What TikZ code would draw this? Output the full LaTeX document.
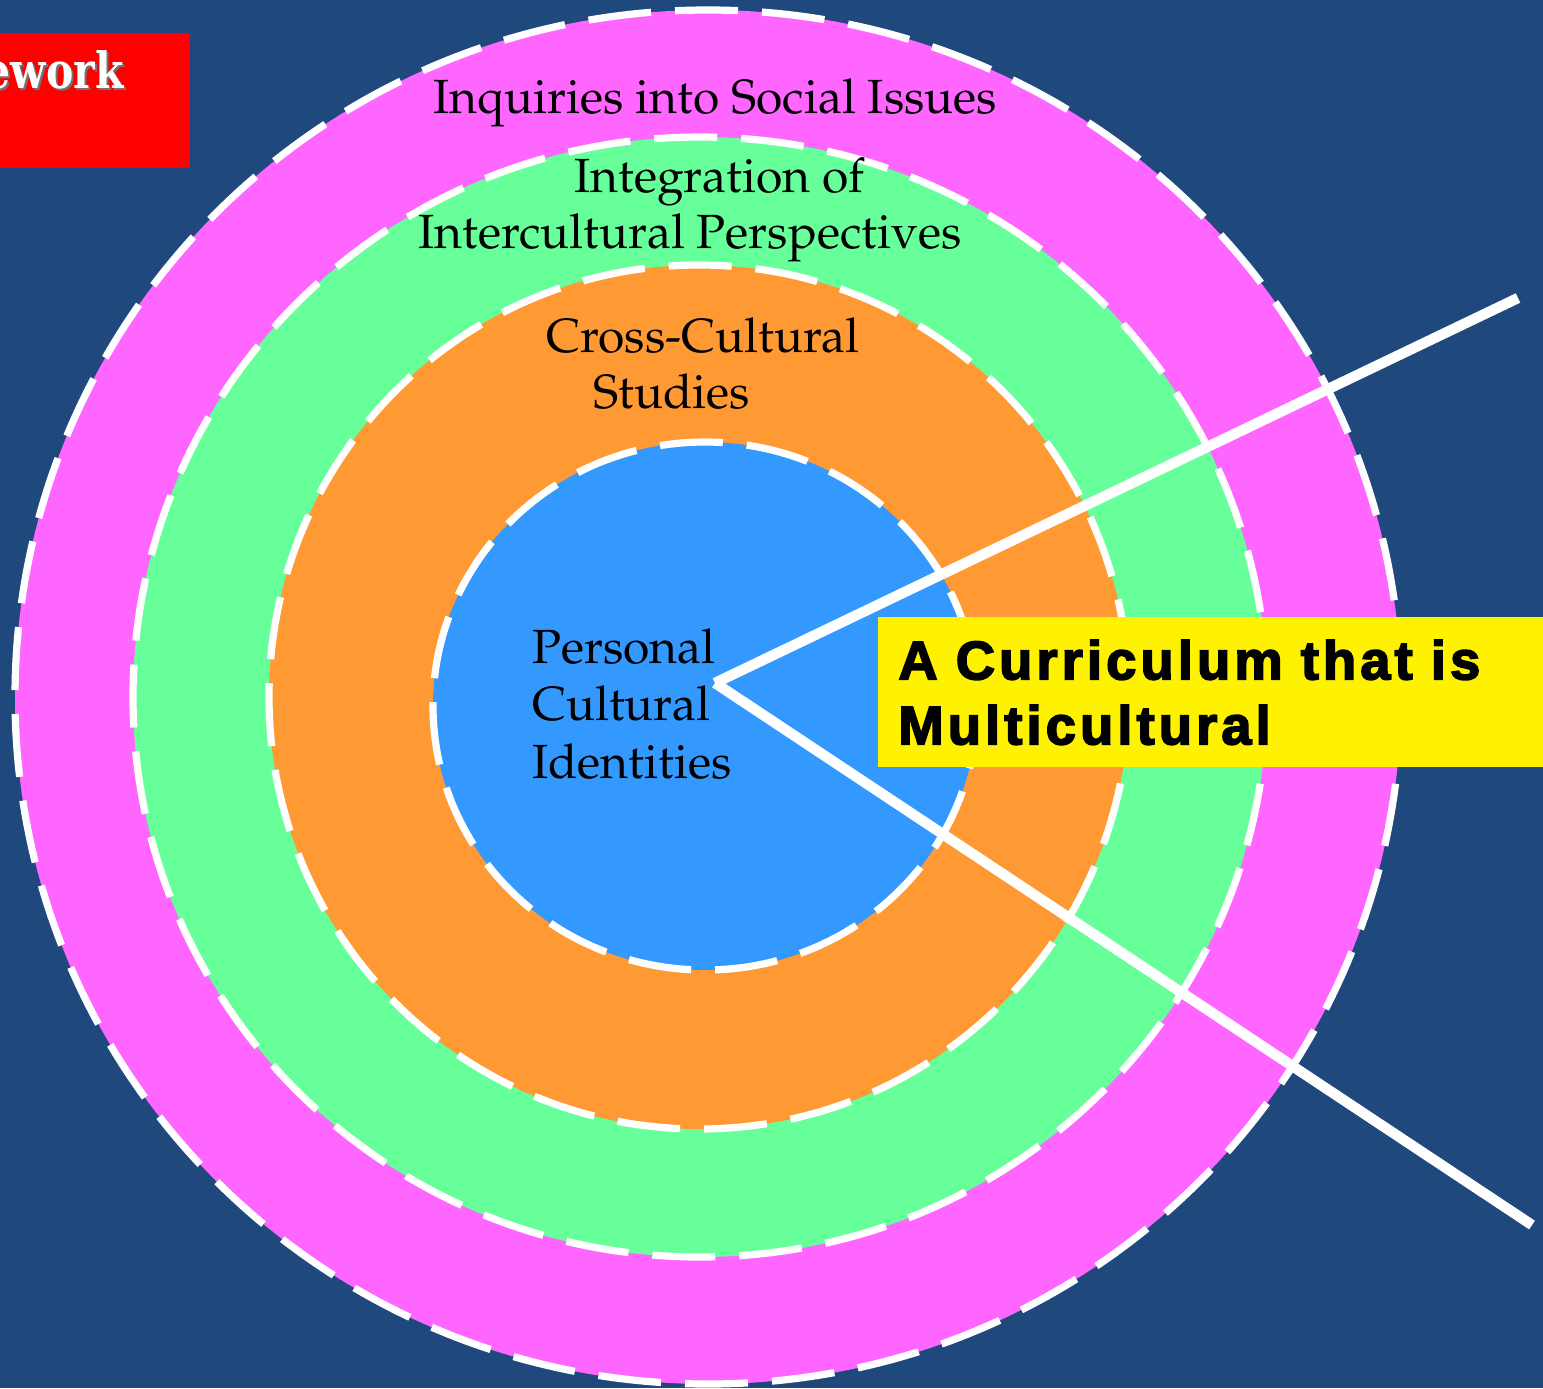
\documentclass[tikz,border=0pt]{standalone}
\usepackage[T1]{fontenc}
\usepackage{fontspec}
\newfontfamily\boxsans{Liberation Sans Bold}[LetterSpace=7.5,FakeBold=3]
\newfontfamily\slabserif{DejaVu Serif Bold}[FakeStretch=0.82]
\newcommand\palfont{\fontencoding{T1}\fontfamily{ppl}\selectfont}

\definecolor{bgblue}{HTML}{1F497D}
\definecolor{ringpink}{HTML}{FF66FF}
\definecolor{ringgreen}{HTML}{66FF99}
\definecolor{ringorange}{HTML}{FF9933}
\definecolor{ringblue}{HTML}{3399FF}

\begin{document}
\begin{tikzpicture}[x=0.5pt, y=-0.5pt,
  ring/.style={fill=#1, draw=white, line width=3.6pt, dash pattern=on 31.5pt off 12pt},
  ringlabel/.style={anchor=base west, inner sep=0pt, align=left,
                    font=\palfont\fontsize{24}{28.75}\selectfont},
  spoke/.style={draw=white, line width=5.2pt}]
\useasboundingbox (0,0) rectangle (1543,1388);
\clip (0,0) rectangle (1543,1388);
\fill[bgblue] (0,0) rectangle (1543,1388);

% rings, drawn from the outside in
\path[ring=ringpink] (708,697) ellipse [x radius=693, y radius=687];
\path[ring=ringgreen] (700,697) ellipse [x radius=567, y radius=560];
\path[ring=ringorange] (699,697) ellipse [x radius=430, y radius=432];
\path[ring=ringblue] (705,706) ellipse [x radius=272, y radius=264];

% ring labels
\node[ringlabel] (social) at (433,113) {Inquiries into Social Issues};
\node[ringlabel] (integr) at (574,192) {Integration of};
\node[ringlabel] (intercult) at (418,248) {Intercultural Perspectives};
\node[ringlabel] (cross) at (546,352) {Cross-Cultural};
\node[ringlabel] (studies) at (593,408) {Studies};
% base of a multi-line node is its last line
\node[ringlabel] (personal) at (532,778) {Personal\\Cultural\\Identities};

% wedge from the core out to the right
\coordinate (hub) at (715,683);
\coordinate (wedgetop) at (1518,298);
\coordinate (wedgebot) at (1532,1225);
\draw[spoke] (hub) -- (wedgetop);
\draw[spoke] (hub) -- (wedgebot);

\node[anchor=north west, fill=yellow, minimum height=75pt, text width=330pt,
      inner xsep=10pt, align=left,
      font=\boxsans\fontsize{27.2}{32.5}\selectfont] (curric) at (878,617)
  {A Curriculum that is\\Multicultural};

% title tag, cut at the left edge
\fill[red] (-10,33) rectangle (190,168);
\node[anchor=base east, inner sep=0pt, text=black!55, font=\slabserif\fontsize{25}{30}\selectfont]
  (titleshadow) at (126,90) {Framework};
\node[anchor=base east, inner sep=0pt, text=white, font=\slabserif\fontsize{25}{30}\selectfont]
  (title) at (124,88) {Framework};
\end{tikzpicture}
\end{document}
